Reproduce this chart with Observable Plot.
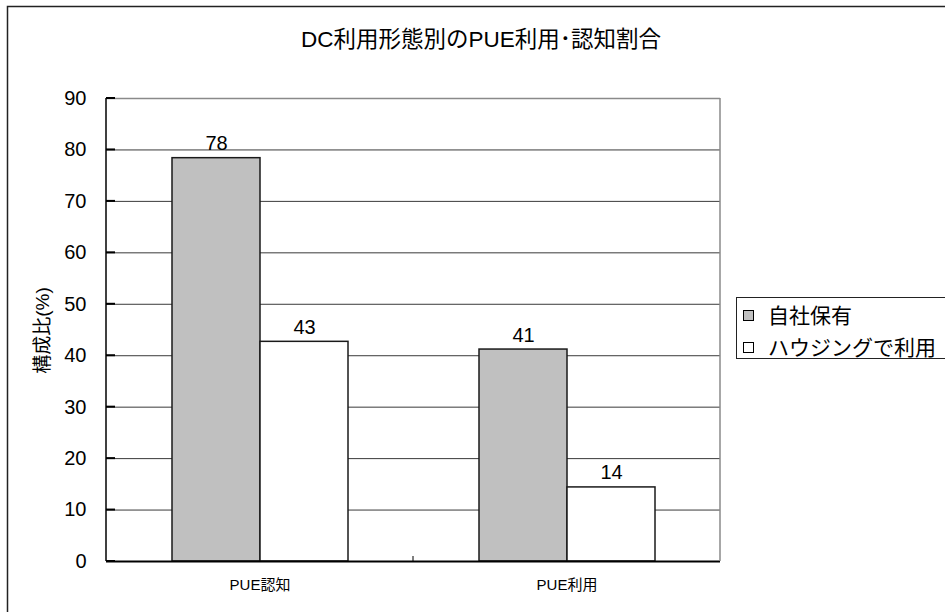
<!DOCTYPE html>
<html>
<head>
<meta charset="utf-8">
<script src="https://cdn.jsdelivr.net/npm/d3@7"></script>
<script src="https://cdn.jsdelivr.net/npm/@observablehq/plot@0.6"></script>
<style>
  html, body { margin: 0; padding: 0; background: #fff; overflow: hidden; }
  svg { display: block; }
</style>
</head>
<body>
<div id="chart"></div>
<script>
const chartTitle = "DC利用形態別のPUE利用･認知割合";
const yLabel = "構成比(%)";
const categories = ["PUE認知", "PUE利用"];
const seriesNames = ["自社保有", "ハウジングで利用"];
const ownedValues = [78.4, 41.2];
const housingValues = [42.7, 14.4];
const yTicks = [0, 10, 20, 30, 40, 50, 60, 70, 80, 90];
const seriesColors = ["#c0c0c0", "#ffffff"];

const FONT = "'Liberation Sans', Arial, 'Noto Sans CJK JP', sans-serif";

const data = categories.flatMap((c, i) => [
  {cat: c, series: seriesNames[0], value: ownedValues[i]},
  {cat: c, series: seriesNames[1], value: housingValues[i]}
]);

const W = 945, H = 612;
const plot = Plot.plot({
  width: W,
  height: H,
  marginLeft: 106,
  marginRight: 225,
  marginTop: 98,
  marginBottom: 51,
  style: {fontFamily: FONT, background: "#fff", color: "#000", overflow: "hidden"},
  fx: {domain: categories, padding: 0, label: null},
  x: {domain: seriesNames, paddingInner: 0, paddingOuter: 0.744, axis: null},
  y: {domain: [0, 90]},
  color: {domain: seriesNames, range: seriesColors},
  marks: [
    Plot.ruleY(yTicks.filter(v => v > 0 && v < 90), {stroke: "#3a3a3a", strokeWidth: 1}),
    Plot.ruleY([90], {stroke: "#8a8a8a", strokeWidth: 1.5}),
    Plot.barY(data, {fx: "cat", x: "series", y: "value", fill: "series", stroke: "#1a1a1a", strokeWidth: 1.5}),
    Plot.text(data, {fx: "cat", x: "series", y: "value", text: d => String(Math.round(d.value)),
      lineAnchor: "bottom", dy: -8, fontSize: 20, fill: "#000"}),
    Plot.ruleY([0], {stroke: "#000", strokeWidth: 2}),
    Plot.axisY({ticks: yTicks, tickSize: 0, tickPadding: 20, fontSize: 20, label: null}),
    Plot.axisFx({anchor: "bottom", tickSize: 0, tickPadding: 18, fontSize: 15, label: null})
  ]
});

const svg = d3.select(plot);
const ys = plot.scale("y");
const fxs = plot.scale("fx");
const left = fxs.apply(categories[0]);
const right = fxs.apply(categories[categories.length - 1]) + fxs.bandwidth;
const y0 = ys.apply(0), yTop = ys.apply(90);

const g = svg.append("g").attr("text-anchor", "start");
// right border of plot area
g.append("line").attr("x1", right).attr("x2", right).attr("y1", yTop).attr("y2", y0)
  .attr("stroke", "#8a8a8a").attr("stroke-width", 1.5);
// left axis line
g.append("line").attr("x1", left).attr("x2", left).attr("y1", yTop).attr("y2", y0)
  .attr("stroke", "#000").attr("stroke-width", 1.5);
// inward ticks
for (const t of yTicks) {
  g.append("line").attr("x1", left).attr("x2", left + 9).attr("y1", ys.apply(t)).attr("y2", ys.apply(t))
    .attr("stroke", "#000").attr("stroke-width", 2);
}
// category separator ticks
for (const c of categories.slice(1)) {
  const xc = fxs.apply(c);
  g.append("line").attr("x1", xc).attr("x2", xc).attr("y1", y0).attr("y2", y0 - 5)
    .attr("stroke", "#000").attr("stroke-width", 1);
}
// outer border
g.append("rect").attr("x", 7.5).attr("y", 6.5).attr("width", W + 20).attr("height", H + 20)
  .attr("fill", "none").attr("stroke", "#222").attr("stroke-width", 1.5);
// title
g.append("text").attr("x", 481).attr("y", 47).attr("text-anchor", "middle")
  .attr("font-family", FONT).attr("font-size", 22.5).attr("fill", "#000").text(chartTitle);
// y label
g.append("text").attr("transform", `translate(49,${(yTop + y0) / 2 + 1}) rotate(-90)`)
  .attr("text-anchor", "middle").attr("font-family", FONT).attr("font-size", 19).attr("fill", "#000").text(yLabel);
// legend
const colorScale = plot.scale("color");
const lg = g.append("g");
lg.append("rect").attr("x", 736.5).attr("y", 297.5).attr("width", 240).attr("height", 61)
  .attr("fill", "#fff").attr("stroke", "#222").attr("stroke-width", 1);
seriesNames.forEach((s, i) => {
  const cy = 315 + i * 32;
  lg.append("rect").attr("x", 743.5).attr("y", cy - 4.5).attr("width", 10).attr("height", 10)
    .attr("fill", colorScale.apply(s)).attr("stroke", "#000").attr("stroke-width", 1);
  lg.append("text").attr("x", 768).attr("y", cy).attr("dy", "0.36em").attr("text-anchor", "start")
    .attr("font-family", FONT).attr("font-size", 21).attr("fill", "#000").text(s);
});

document.getElementById("chart").appendChild(plot);
</script>
</body>
</html>
